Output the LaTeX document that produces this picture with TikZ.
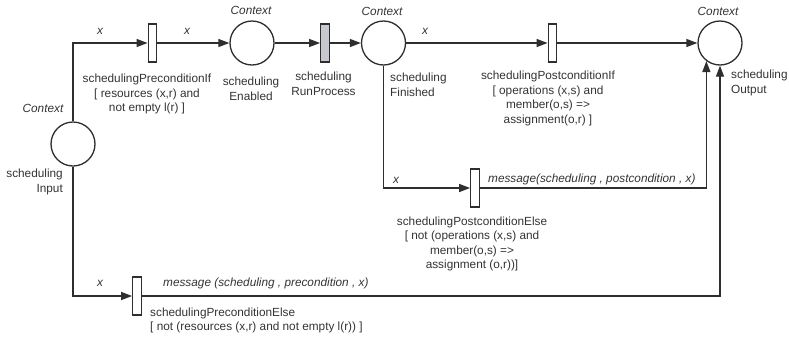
\documentclass[tikz,border=0pt]{standalone}
\usepackage{fontspec}
\setmainfont{Liberation Sans}
\usetikzlibrary{arrows.meta}

\begin{document}
\begin{tikzpicture}[
  x=1pt, y=-1pt,
  font=\fontsize{11.8}{14.5}\selectfont,
  place/.style={circle, draw=lineGray, line width=1.3pt, minimum size=44pt, inner sep=0pt},
  trans/.style={rectangle, draw=lineGray, line width=1.3pt, fill=white, minimum width=8.5pt, minimum height=38pt, inner sep=0pt},
  arc/.style={draw=lineGray, line width=1.3pt, -{Triangle[length=11pt, width=8pt]}},
  netlabel/.style={text=textGray, align=center, inner sep=0pt},
  leftlabel/.style={text=textGray, align=left, anchor=west, inner sep=0pt},
  ctxlabel/.style={text=textGray, font=\fontsize{11.8}{14.5}\selectfont\itshape, inner sep=0pt},
]

\definecolor{lineGray}{gray}{0.18}
\definecolor{textGray}{gray}{0.2}
\definecolor{runFill}{RGB}{200,200,208}

\def\toprow{43}

\useasboundingbox (0,0) rectangle (789,338);

% Places.
\node[place] (input) at (73,144) {};
\node[place] (enabled) at (252,\toprow) {};
\node[place] (finished) at (383.5,\toprow) {};
\node[place] (output) at (720,\toprow) {};

% Transitions.
\node[trans] (preIf) at (152.5,\toprow) {};
\node[trans, fill=runFill] (run) at (325,\toprow) {};
\node[trans] (postIf) at (552.5,\toprow) {};
\node[trans] (postElse) at (475,188) {};
\node[trans] (preElse) at (137,296) {};

% Context labels.
\node[ctxlabel] (ctxIn) at (43,108) {Context};
\node[ctxlabel] (ctxEn) at (251,10) {Context};
\node[ctxlabel] (ctxFin) at (382,11) {Context};
\node[ctxlabel] (ctxOut) at (718,11) {Context};

% Place names.
\node[netlabel, align=right, anchor=east] (inName) at (63,182) {scheduling\\Input};
\node[netlabel] (enName) at (251,89) {scheduling\\Enabled};
\node[netlabel] (runName) at (323.5,84) {scheduling\\RunProcess};
\node[leftlabel] (finName) at (390,85) {scheduling\\Finished};
\node[leftlabel] (outName) at (731,83) {scheduling\\Output};

% Transition names and guards.
\node[netlabel] (preIfName) at (147,94) {schedulingPreconditionIf\\{[} resources (x,r) and\\not empty l(r) ]};
\node[netlabel] (postIfName) at (548,98.5) {schedulingPostconditionIf\\{[} operations (x,s) and\\member(o,s) =>\\assignment(o,r) ]};
\node[netlabel] (postElseName) at (472,244) {schedulingPostconditionElse\\{[} not (operations (x,s) and\\member(o,s) =>\\assignment (o,r))]};
\node[leftlabel] (preElseName) at (150,320.5) {schedulingPreconditionElse\\{[} not (resources (x,r) and not empty l(r)) ]};

% Arcs.
\draw[arc] (input.north) |- (preIf.west);
\draw[arc] (preIf.east) -- (enabled.west);
\draw[arc] (enabled.east) -- (run.west);
\draw[arc] (run.east) -- (finished.west);
\draw[arc] (finished.east) -- (postIf.west);
\draw[arc] (postIf.east) -- (output.west);
\draw[arc] (finished.south) |- (postElse.west);
\draw[arc] (postElse.east) -| (output.-127);
\draw[arc] (input.south) |- (preElse.west);
\draw[arc] (preElse.east) -| (output.south);

% Arc inscriptions.
\node[ctxlabel] (xa) at (100,31) {x};
\node[ctxlabel] (xb) at (187,31) {x};
\node[ctxlabel] (xc) at (425,31) {x};
\node[ctxlabel] (xd) at (396,180) {x};
\node[ctxlabel] (xe) at (100,283) {x};
\node[ctxlabel, anchor=west] (msgPost) at (488,179) {message(scheduling , postcondition , x)};
\node[ctxlabel, anchor=west] (msgPre) at (163,283) {message (scheduling , precondition , x)};

\end{tikzpicture}
\end{document}
